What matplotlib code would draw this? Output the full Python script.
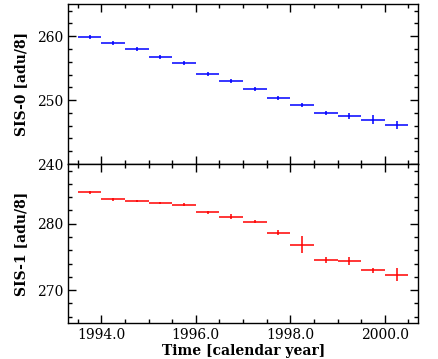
import matplotlib
matplotlib.use("Agg")
import matplotlib.pyplot as plt
from matplotlib.ticker import MultipleLocator, FormatStrFormatter

# half-year bins
t = [1993.75, 1994.25, 1994.75, 1995.25, 1995.75, 1996.25, 1996.75,
     1997.25, 1997.75, 1998.25, 1998.75, 1999.25, 1999.75, 2000.25]
t_err = 0.25

sis0 = [259.85, 258.96, 258.0, 256.76, 255.82, 254.1, 253.0,
        251.74, 250.33, 249.23, 247.97, 247.5, 246.92, 246.09]
sis0_err = [0.30, 0.26, 0.26, 0.34, 0.34, 0.34, 0.37,
            0.37, 0.30, 0.30, 0.37, 0.47, 0.68, 0.63]

sis1 = [284.74, 283.69, 283.45, 283.15, 282.85, 281.74, 281.05,
        280.3, 278.65, 276.85, 274.6, 274.35, 273.0, 272.35]
sis1_err = [0.25, 0.2, 0.2, 0.2, 0.2, 0.2, 0.35,
            0.25, 0.35, 1.3, 0.45, 0.6, 0.35, 1.0]

plt.rcParams['font.family'] = ['DejaVu Serif']
plt.rcParams['font.size'] = 10

W, H = 439, 359
fig = plt.figure(figsize=(W / 100, H / 100), dpi=100)

def box(x0, y0, x1, y1):
    return [x0 / W, 1 - y1 / H, (x1 - x0) / W, (y1 - y0) / H]

ax1 = fig.add_axes(box(68.3, 4.3, 418.3, 164))
ax2 = fig.add_axes(box(68.3, 164, 418.3, 323.3))

ax1.errorbar(t, sis0, xerr=t_err, yerr=sis0_err, fmt='none', ecolor='#0000ff',
             elinewidth=1.1, capsize=0)
ax2.errorbar(t, sis1, xerr=t_err, yerr=sis1_err, fmt='none', ecolor='#ff0000',
             elinewidth=1.1, capsize=0)

ax1.set_ylim(240, 265)
ax2.set_ylim(265, 289)
ax1.yaxis.set_major_locator(MultipleLocator(10))
ax2.yaxis.set_major_locator(MultipleLocator(10))

for ax in (ax1, ax2):
    ax.set_xlim(1993.3, 2000.71)
    ax.xaxis.set_major_locator(MultipleLocator(2))
    ax.xaxis.set_minor_locator(MultipleLocator(0.5))
    ax.yaxis.set_minor_locator(MultipleLocator(2))
    ax.tick_params(which='both', direction='in', top=True, right=True, width=1)
    ax.tick_params(which='major', length=6, pad=3.5)
    ax.tick_params(which='minor', length=3)
    for s in ax.spines.values():
        s.set_linewidth(1)

ax1.tick_params(labelbottom=False)
ax2.xaxis.set_major_formatter(FormatStrFormatter('%.1f'))

ax1.set_ylabel('SIS-0 [adu/8]', fontweight='bold')
ax2.set_ylabel('SIS-1 [adu/8]', fontweight='bold')
ax1.yaxis.set_label_coords(-0.115, 0.5)
ax2.yaxis.set_label_coords(-0.115, 0.5)
ax2.set_xlabel('Time [calendar year]', fontweight='bold', labelpad=1)

fig.savefig('out.png', dpi=100)
